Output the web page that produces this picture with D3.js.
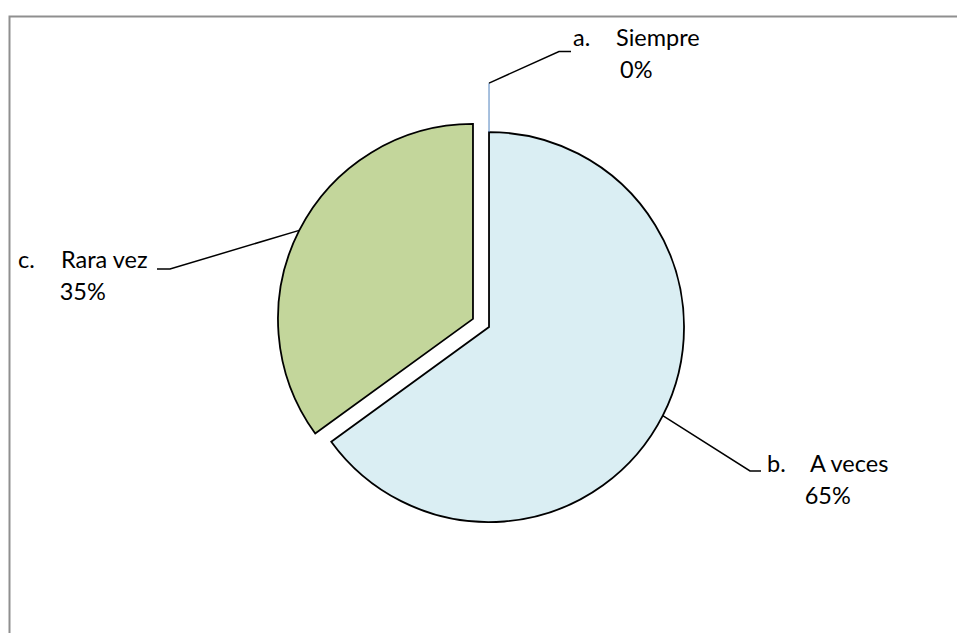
<!DOCTYPE html>
<html>
<head>
<meta charset="utf-8">
<script src="https://cdn.jsdelivr.net/npm/d3@7"></script>
<style>
  html, body { margin: 0; padding: 0; background: #fff; }
  svg { display: block; }
  text { font-family: Lato, "Open Sans", sans-serif; fill: #000; }
</style>
</head>
<body>
<svg id="chart" width="957" height="633"></svg>
<script>
// ---- data ----
const prefixes = ["a.", "b.", "c."];
const categories = ["Siempre", "A veces", "Rara vez"];
const values = [0, 65, 35];
const percentLabels = ["0%", "65%", "35%"];
const colors = ["#4F81BD", "#DAEEF3", "#C3D69B"];

// ---- layout ----
const W = 957, H = 633;
const cx = 481, cy = 323, R = 195, explode = 9;
const fontSize = 23.5, lineGap = 32, tabGap = 43;

const svg = d3.select("#chart");

// chart frame (left & top edges visible)
svg.append("path")
  .attr("d", `M9.5,${H} L9.5,16.5 L${W},16.5`)
  .attr("fill", "none").attr("stroke", "#8f8f8f").attr("stroke-width", 2);

const pie = d3.pie().sort(null).value(d => d)(values);
const arc = d3.arc().innerRadius(0).outerRadius(R);

function offset(d, dist) {
  const a = (d.startAngle + d.endAngle) / 2;
  return [Math.sin(a) * dist, -Math.cos(a) * dist];
}

// non-zero slices
const g = svg.append("g").attr("transform", `translate(${cx},${cy})`);
pie.forEach((d, i) => {
  if (d.value === 0) return;
  const [ox, oy] = offset(d, explode);
  g.append("path")
    .attr("d", arc(d))
    .attr("transform", `translate(${ox},${oy})`)
    .attr("fill", colors[i])
    .attr("stroke", "#000")
    .attr("stroke-width", 1.8)
    .attr("stroke-linejoin", "miter");
});

// label/leader layout (annotation positions)
const leaderLayout = [
  { elbow: [559, 51.5], end: [571, 51.5], tx: 573, ty: 46 },
  { elbow: [750, 471],  end: [761, 471],  tx: 767, ty: 472 },
  { elbow: [170, 269],  end: [157, 269],  tx: 18,  ty: 268 }
];

pie.forEach((d, i) => {
  const L = leaderLayout[i];
  let start;
  if (d.value === 0) {
    // zero-size slice drawn as a thin radial stroke beside the next slice's edge
    const next = pie[i + 1];
    const [ox, oy] = offset(next, explode);
    const top = [cx + ox, cy + oy - R];
    start = [top[0], top[1] - 49];
    svg.append("line")
      .attr("x1", top[0]).attr("y1", top[1])
      .attr("x2", start[0]).attr("y2", start[1])
      .attr("stroke", colors[i]).attr("stroke-width", 1);
  } else {
    const [ox, oy] = offset(d, explode);
    const [px, py] = offset(d, R);
    start = [cx + ox + px, cy + oy + py];
  }
  svg.append("polyline")
    .attr("points", [start, L.elbow, L.end].map(p => p.join(",")).join(" "))
    .attr("fill", "none").attr("stroke", "#000").attr("stroke-width", 1.5);

  const t1 = svg.append("text")
    .attr("x", L.tx).attr("y", L.ty)
    .attr("font-size", fontSize);
  t1.append("tspan").attr("x", L.tx).text(prefixes[i]);
  t1.append("tspan").attr("x", L.tx + tabGap).text(categories[i]);
  const bb = t1.node().getBBox();
  svg.append("text")
    .attr("x", bb.x + bb.width / 2).attr("y", L.ty + lineGap)
    .attr("text-anchor", "middle")
    .attr("font-size", fontSize)
    .text(percentLabels[i]);
});
</script>
</body>
</html>
